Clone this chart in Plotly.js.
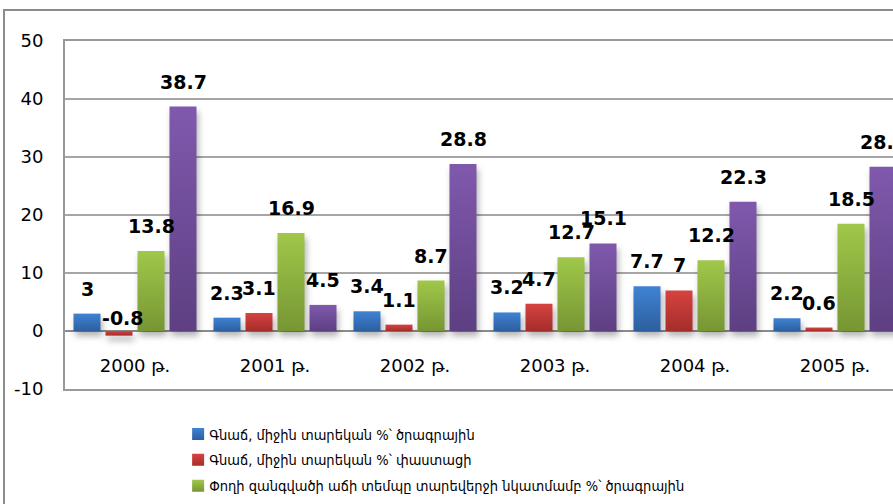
<!DOCTYPE html>
<html>
<head>
<meta charset="utf-8">
<script src="https://cdn.plot.ly/plotly-3.0.1.min.js"></script>
<style>
html, body { margin: 0; padding: 0; overflow: hidden; background: #fff; width: 893px; height: 504px; }
#chart { position: absolute; left: 0; top: 0; width: 940px; height: 540px; }
#frame { position: absolute; left: 3px; top: 9px; width: 1000px; height: 1000px; border: 2px solid #8c8c8c; pointer-events: none; }
</style>
</head>
<body>
<svg width="0" height="0" style="position:absolute">
  <defs>
    <linearGradient id="gB" x1="0" y1="0" x2="0" y2="1"><stop offset="0" stop-color="#3f83d4"/><stop offset="1" stop-color="#2c5f9f"/></linearGradient>
    <linearGradient id="gR" x1="0" y1="0" x2="0" y2="1"><stop offset="0" stop-color="#d6433f"/><stop offset="1" stop-color="#a52d2b"/></linearGradient>
    <linearGradient id="gG" x1="0" y1="0" x2="0" y2="1"><stop offset="0" stop-color="#a0c84a"/><stop offset="1" stop-color="#769633"/></linearGradient>
    <linearGradient id="gP" x1="0" y1="0" x2="0" y2="1"><stop offset="0" stop-color="#8059ad"/><stop offset="1" stop-color="#5d3f82"/></linearGradient>
  </defs>
</svg>
<div id="chart"></div>
<div id="frame"></div>
<script>
// ---- data ----
var categories = ['2000 թ.', '2001 թ.', '2002 թ.', '2003 թ.', '2004 թ.', '2005 թ.'];
var seriesNames = [
  'Գնաճ, միջին տարեկան %՝ ծրագրային',
  'Գնաճ, միջին տարեկան %՝ փաստացի',
  'Փողի զանգվածի աճի տեմպը տարեվերջի նկատմամբ %՝ ծրագրային',
  'Փողի զանգվածի աճի տեմպը տարեվերջի նկատմամբ %՝ փաստացի'
];
var inflationProgram = [3, 2.3, 3.4, 3.2, 7.7, 2.2];
var inflationActual = [-0.8, 3.1, 1.1, 4.7, 7, 0.6];
var moneyGrowthProgram = [13.8, 16.9, 8.7, 12.7, 12.2, 18.5];
var moneyGrowthActual = [38.7, 4.5, 28.8, 15.1, 22.3, 28.3];
var yTicks = [-10, 0, 10, 20, 30, 40, 50];

var seriesValues = [inflationProgram, inflationActual, moneyGrowthProgram, moneyGrowthActual];
var colors = ['#3670bb', '#c23a37', '#8db442', '#6f4c98'];
var gradIds = ['gB', 'gR', 'gG', 'gP'];
var font = 'DejaVu Sans, sans-serif';

var traces = seriesValues.map(function (vals, i) {
  return {
    type: 'bar',
    name: seriesNames[i],
    x: categories,
    y: vals,
    legendgroup: 'g' + i,
    marker: { color: colors[i], line: { width: 0 } },
    hoverinfo: 'skip'
  };
});

var annotations = [];
seriesValues.forEach(function (vals, i) {
  vals.forEach(function (v, j) {
    annotations.push({
      x: categories[j], y: Math.max(v, 0), xref: 'x', yref: 'y',
      text: String(v), showarrow: false,
      xanchor: 'center', yanchor: 'middle',
      xshift: (i - 1.5) * 32 + (v < 0 ? 4 : 0),
      yshift: v < 0 ? 13 : 25,
      font: { family: font, size: 19, color: '#000', weight: 'bold' }
    });
  });
});

var layout = {
  width: 940, height: 540,
  margin: { l: 65, r: 0, t: 41, b: 151 },
  paper_bgcolor: 'rgba(0,0,0,0)', plot_bgcolor: '#fff',
  barmode: 'group', bargap: 0.0857, bargroupgap: 0.156,
  showlegend: true,
  legend: {
    x: 0.119, y: -0.0835, xanchor: 'left', yanchor: 'top',
    orientation: 'v', traceorder: 'grouped', tracegroupgap: 4,
    font: { family: 'DejaVu Sans Condensed, DejaVu Sans, sans-serif', size: 14.5, color: '#000' },
    bgcolor: 'rgba(0,0,0,0)'
  },
  xaxis: {
    type: 'category', range: [-0.5, 5.75],
    showgrid: false, showline: true, mirror: true, linecolor: '#999', linewidth: 2,
    ticks: '', ticklabelposition: 'outside', ticklabelstandoff: -41,
    tickfont: { family: font, size: 18, color: '#000' },
    fixedrange: true
  },
  yaxis: {
    range: [-10, 50], tickvals: yTicks, ticktext: yTicks.map(String),
    showgrid: true, gridcolor: '#a6a6a6', gridwidth: 1.5,
    zeroline: true, zerolinecolor: '#8c8c8c', zerolinewidth: 2,
    showline: true, mirror: true, linecolor: '#999', linewidth: 2,
    ticks: '', ticklabelstandoff: 16,
    tickfont: { family: font, size: 18, color: '#000' },
    fixedrange: true
  },
  annotations: annotations
};

Plotly.newPlot('chart', traces, layout, { displayModeBar: false, staticPlot: true }).then(function (gd) {
  gd.querySelectorAll('.barlayer .trace').forEach(function (t, i) {
    t.querySelectorAll('path').forEach(function (p) {
      p.style.fill = 'url(#' + gradIds[i] + ')';
      p.style.filter = 'drop-shadow(2px 5px 3px rgba(0,0,0,0.3))';
    });
  });
  gd.querySelectorAll('.legend .traces').forEach(function (t, i) {
    var lp = t.querySelector('.legendpoints');
    if (lp) {
      lp.setAttribute('transform', (lp.getAttribute('transform') || '') + ' translate(9,0)');
    }
    t.querySelectorAll('.legendpoints path').forEach(function (p) {
      p.style.fill = 'url(#' + gradIds[i] + ')';
    });
  });
});
</script>
</body>
</html>
